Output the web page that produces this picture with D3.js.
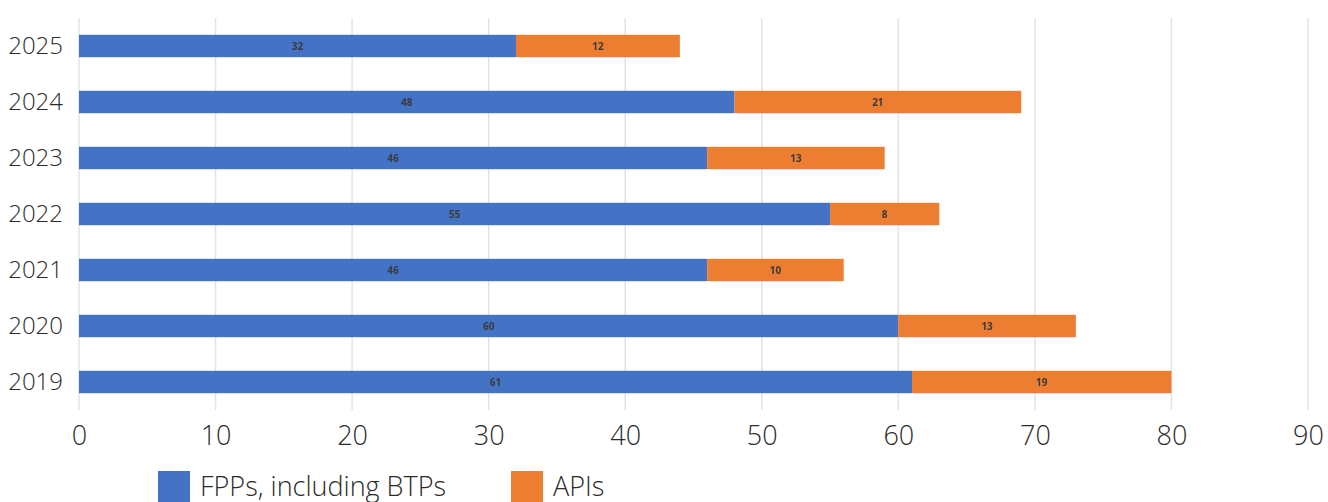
<!DOCTYPE html>
<html>
<head>
<meta charset="utf-8">
<script src="https://cdn.jsdelivr.net/npm/d3@7"></script>
<style>
  html, body { margin: 0; padding: 0; background: #fff; }
  svg { display: block; }
</style>
</head>
<body>
<svg id="chart" width="1328" height="502"></svg>
<script>
// Yearly counts, stacked: FPPs (incl. BTPs) first, then APIs
const years = ["2025", "2024", "2023", "2022", "2021", "2020", "2019"];
const fpps  = [32, 48, 46, 55, 46, 60, 61];
const apis  = [12, 21, 13, 8, 10, 13, 19];
const xTicks = [0, 10, 20, 30, 40, 50, 60, 70, 80, 90];
const seriesNames = ["FPPs, including BTPs", "APIs"];
const colors = ["#4472C4", "#ED7D31"];

const FONT = "'Open Sans', 'Noto Sans', sans-serif";
const svg = d3.select("#chart");
const margin = { left: 79, right: 20, top: 18, bottom: 92 };
const W = 1328, H = 502;

const x = d3.scaleLinear().domain([0, 90]).range([margin.left, 1308]);
const y = d3.scaleBand().domain(years).range([margin.top, H - margin.bottom]).paddingInner(0.6).paddingOuter(0.3);

// soft focus for the small value labels
svg.append("defs").append("filter").attr("id", "soft")
  .append("feGaussianBlur").attr("stdDeviation", 0.45);

// vertical gridlines
svg.append("g")
  .selectAll("line")
  .data(xTicks)
  .join("line")
  .attr("x1", d => x(d)).attr("x2", d => x(d))
  .attr("y1", margin.top).attr("y2", H - margin.bottom)
  .attr("stroke", "#e3e3e3").attr("stroke-width", 1.5);

// x axis labels
const xAxis = svg.append("g")
  .attr("transform", `translate(0,${H - margin.bottom})`)
  .call(d3.axisBottom(x).tickValues(xTicks).tickSize(0).tickPadding(16))
  .attr("font-family", FONT);
xAxis.select(".domain").remove();
xAxis.selectAll("text")
  .attr("font-size", 27).attr("font-weight", 300).attr("fill", "#2b2b2b");

// y axis labels
const yAxis = svg.append("g")
  .attr("transform", `translate(${margin.left},0)`)
  .call(d3.axisLeft(y).tickSize(0).tickPadding(16))
  .attr("font-family", FONT);
yAxis.select(".domain").remove();
yAxis.selectAll("text")
  .attr("font-size", 24).attr("font-weight", 300).attr("fill", "#2b2b2b");

// stacked bars
const rows = years.map((yr, i) => ({ year: yr, fpps: fpps[i], apis: apis[i] }));
const stack = d3.stack().keys(["fpps", "apis"])(rows);

const layer = svg.append("g")
  .selectAll("g")
  .data(stack)
  .join("g")
  .attr("fill", (d, i) => colors[i]);

layer.selectAll("rect")
  .data(d => d)
  .join("rect")
  .attr("x", d => x(d[0]))
  .attr("width", d => x(d[1]) - x(d[0]))
  .attr("y", d => y(d.data.year))
  .attr("height", y.bandwidth());

// value labels centred in each segment
layer.selectAll("text")
  .data(d => d)
  .join("text")
  .attr("x", d => (x(d[0]) + x(d[1])) / 2)
  .attr("y", d => y(d.data.year) + y.bandwidth() / 2)
  .attr("dy", "0.35em")
  .attr("text-anchor", "middle")
  .attr("font-family", FONT)
  .attr("font-size", 10)
  .attr("font-weight", 700)
  .attr("fill", "#3a3a3a")
  .attr("filter", "url(#soft)")
  .text(d => d[1] - d[0]);

// legend
const legendItems = [
  { name: seriesNames[0], color: colors[0], x: 158 },
  { name: seriesNames[1], color: colors[1], x: 511 }
];
const lg = svg.append("g").selectAll("g").data(legendItems).join("g")
  .attr("transform", d => `translate(${d.x},471)`);
lg.append("rect").attr("width", 32).attr("height", 32).attr("fill", d => d.color);
lg.append("text")
  .attr("x", 42).attr("y", 25)
  .attr("font-family", FONT)
  .attr("font-size", 27).attr("font-weight", 300).attr("fill", "#2b2b2b")
  .text(d => d.name);
</script>
</body>
</html>
